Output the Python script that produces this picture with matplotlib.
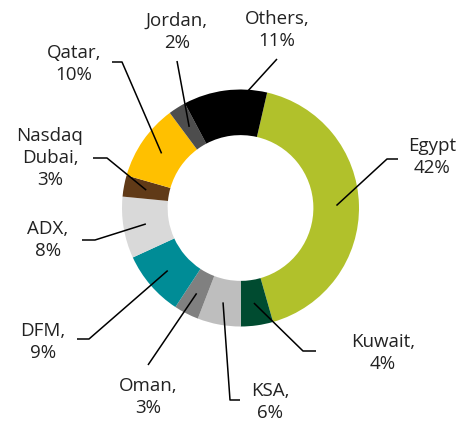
import numpy as np
import matplotlib
matplotlib.use('Agg')
from matplotlib import pyplot as plt

# share of listings (labels show rounded values)
markets = ['Egypt', 'Kuwait,', 'KSA,', 'Oman,', 'DFM,', 'ADX,', 'Nasdaq\nDubai,', 'Qatar,', 'Jordan,', 'Others,']
shares = [42.0, 4.4, 5.9, 3.4, 8.9, 8.4, 2.9, 10.4, 2.4, 11.4]
colours = ['#b1c12b', '#004b30', '#bebebe', '#808080', '#008c96',
           '#d9d9d9', '#603a17', '#ffc000', '#4d4d4d', '#000000']

# label layout in pixels from top-left: text centre, elbow, line end
lbl_pos = [(432, 157), (383, 353), (270, 402), (148, 397), (43, 342),
           (48, 240), (50, 158), (74, 64), (177, 32), (277, 30)]
elbows = [(387, 160), (303, 352), (230, 401), None, (89, 340),
          (95, 241), (107, 159), (122, 63), None, None]
ends = [(398, 160), (316, 352), (240, 401), (148, 366), (77, 340),
        (82, 241), (93, 159), (112, 63), (177, 62), (277, 60)]

W, H = 458, 427
cx, cy, R = 240.5, H - 209, 118.5

fig = plt.figure(figsize=(W / 100, H / 100), dpi=100)
ax = fig.add_axes([0, 0, 1, 1])
wedges, _ = ax.pie(shares, colors=colours, startangle=77, counterclock=False,
                   center=(cx, cy), radius=R,
                   wedgeprops=dict(width=R * 0.385, linewidth=0))
ax.set_xlim(0, W)
ax.set_ylim(0, H)
ax.axis('off')

for i, w in enumerate(wedges):
    mid = np.deg2rad((w.theta1 + w.theta2) / 2)
    x0 = cx + 0.81 * R * np.cos(mid)
    y0 = cy + 0.81 * R * np.sin(mid)
    pts = [(x0, y0)]
    if elbows[i] is not None:
        pts.append((elbows[i][0], H - elbows[i][1]))
    pts.append((ends[i][0], H - ends[i][1]))
    xs, ys = zip(*pts)
    ax.plot(xs, ys, color='black', lw=1.1, solid_capstyle='butt', zorder=5)
    txt = markets[i] + '\n' + f'{round(shares[i])}%'
    ax.text(lbl_pos[i][0], H - lbl_pos[i][1], txt, ha='center', va='center',
            multialignment='center', fontsize=13.5, family='Open Sans',
            color='#222222', linespacing=1.3)

fig.savefig('out.png', dpi=100)
